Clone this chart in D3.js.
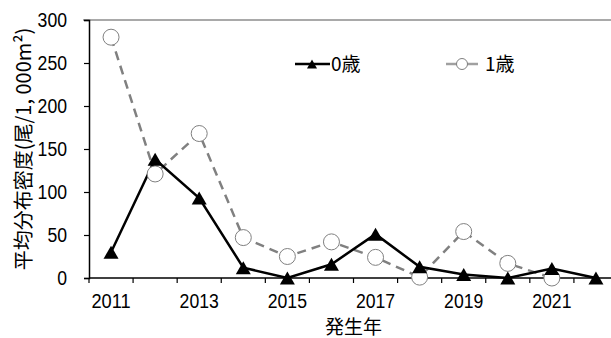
<!DOCTYPE html>
<html>
<head>
<meta charset="utf-8">
<script src="https://cdn.jsdelivr.net/npm/d3@7"></script>
<style>
  body { margin: 0; background: #fff; }
  text { font-family: "Liberation Sans", "Noto Sans CJK JP", sans-serif; fill: #000; }
  .jp { font-family: "Noto Sans CJK JP", sans-serif; }
</style>
</head>
<body>
<div id="chart"></div>
<script>
// data
const years = [2011, 2012, 2013, 2014, 2015, 2016, 2017, 2018, 2019, 2020, 2021, 2022];
const age0 = [30, 138, 93, 12, 0, 16, 51, 13, 4, 0, 11, 0];
const age1 = [280, 121, 168, 47, 25, 42, 24, 1, 54, 17, 0, null];
const yTicks = [0, 50, 100, 150, 200, 250, 300];
const xLabels = [2011, 2013, 2015, 2017, 2019, 2021];

const W = 611, H = 338;
const plotLeft = 89, plotRight = 618, plotTop = 20, plotBottom = 278;
const digitW = 9.8; // condensed digits like the reference

const svg = d3.select("#chart").append("svg")
    .attr("width", W)
    .attr("height", H);

const x = d3.scaleBand().domain(years).range([plotLeft, plotRight]);
const y = d3.scaleLinear().domain([0, 300]).range([plotBottom, plotTop]);

// top border of plot area
svg.append("line")
    .attr("x1", plotLeft - 6).attr("x2", W)
    .attr("y1", y(300)).attr("y2", y(300))
    .attr("stroke", "#8c8c8c").attr("stroke-width", 1.5);

// y axis
const yAxis = svg.append("g")
    .attr("transform", "translate(" + plotLeft + ",0)")
    .call(d3.axisLeft(y).tickValues(yTicks).tickSize(5).tickPadding(17));
yAxis.select(".domain").attr("stroke", "#000").attr("stroke-width", 1.5);
yAxis.selectAll(".tick line").attr("stroke", "#000").attr("stroke-width", 1.2);
yAxis.selectAll(".tick text")
    .attr("font-size", 20)
    .attr("font-family", null)
    .attr("textLength", d => String(d).length * digitW)
    .attr("lengthAdjust", "spacingAndGlyphs");

// x axis: ticks between categories
svg.append("line")
    .attr("x1", plotLeft).attr("x2", plotRight)
    .attr("y1", plotBottom).attr("y2", plotBottom)
    .attr("stroke", "#000").attr("stroke-width", 1.5);

const edges = years.map(d => x(d)).concat([plotRight]);
svg.append("g").selectAll("line")
    .data(edges)
    .enter().append("line")
    .attr("x1", d => d).attr("x2", d => d)
    .attr("y1", plotBottom).attr("y2", plotBottom + 5)
    .attr("stroke", "#000").attr("stroke-width", 1.2);

svg.append("g").selectAll("text")
    .data(xLabels)
    .enter().append("text")
    .attr("x", d => x(d) + x.bandwidth() / 2)
    .attr("y", 308)
    .attr("text-anchor", "middle")
    .attr("font-size", 19.5)
    .attr("textLength", 4 * digitW)
    .attr("lengthAdjust", "spacingAndGlyphs")
    .text(d => d);

// axis titles
svg.append("text")
    .attr("class", "jp")
    .attr("x", (plotLeft + plotRight) / 2)
    .attr("y", 334)
    .attr("text-anchor", "middle")
    .attr("font-size", 19)
    .text("発生年");

svg.append("text")
    .attr("class", "jp")
    .attr("transform", "translate(31,149) rotate(-90)")
    .attr("text-anchor", "middle")
    .attr("font-size", 20)
    .text("平均分布密度(尾/1, 000m²)");

const cx = (d, i) => x(years[i]) + x.bandwidth() / 2;

// 1歳 series (dashed grey, open circles)
const line1 = d3.line()
    .defined(d => d != null)
    .x((d, i) => cx(d, i))
    .y(d => y(d));

svg.append("path")
    .datum(age1)
    .attr("d", line1)
    .attr("fill", "none")
    .attr("stroke", "#808080")
    .attr("stroke-width", 2.5)
    .attr("stroke-dasharray", "9,6");

// 0歳 series (solid black, triangles)
svg.append("path")
    .datum(age0)
    .attr("d", d3.line().x((d, i) => cx(d, i)).y(d => y(d)))
    .attr("fill", "none")
    .attr("stroke", "#000")
    .attr("stroke-width", 2.5);

svg.append("g").selectAll("circle")
    .data(age1.map((v, i) => ({v: v, i: i})).filter(d => d.v != null))
    .enter().append("circle")
    .attr("cx", d => cx(d.v, d.i))
    .attr("cy", d => y(d.v))
    .attr("r", 8)
    .attr("fill", "#fff")
    .attr("stroke", "#808080")
    .attr("stroke-width", 1);

function tri(w, h) {
    return "M0," + (-h / 2) + "L" + (w / 2) + "," + (h / 2) + "L" + (-w / 2) + "," + (h / 2) + "Z";
}

svg.append("g").selectAll("path")
    .data(age0)
    .enter().append("path")
    .attr("d", tri(15, 13))
    .attr("transform", (d, i) => "translate(" + cx(d, i) + "," + y(d) + ")")
    .attr("fill", "#000");

// legend
const lg = svg.append("g");
lg.append("line")
    .attr("x1", 295).attr("x2", 330).attr("y1", 64).attr("y2", 64)
    .attr("stroke", "#000").attr("stroke-width", 2.5);
lg.append("path")
    .attr("d", tri(10, 9))
    .attr("transform", "translate(312,64)")
    .attr("fill", "#000");
lg.append("text")
    .attr("class", "jp")
    .attr("x", 331).attr("y", 71)
    .attr("font-size", 19)
    .text("0歳");

lg.append("line")
    .attr("x1", 446).attr("x2", 478).attr("y1", 64).attr("y2", 64)
    .attr("stroke", "#a0a0a0").attr("stroke-width", 2.5);
lg.append("circle")
    .attr("cx", 462).attr("cy", 64).attr("r", 5.5)
    .attr("fill", "#fff").attr("stroke", "#808080").attr("stroke-width", 1);
lg.append("text")
    .attr("class", "jp")
    .attr("x", 485).attr("y", 71)
    .attr("font-size", 19)
    .text("1歳");
</script>
</body>
</html>
